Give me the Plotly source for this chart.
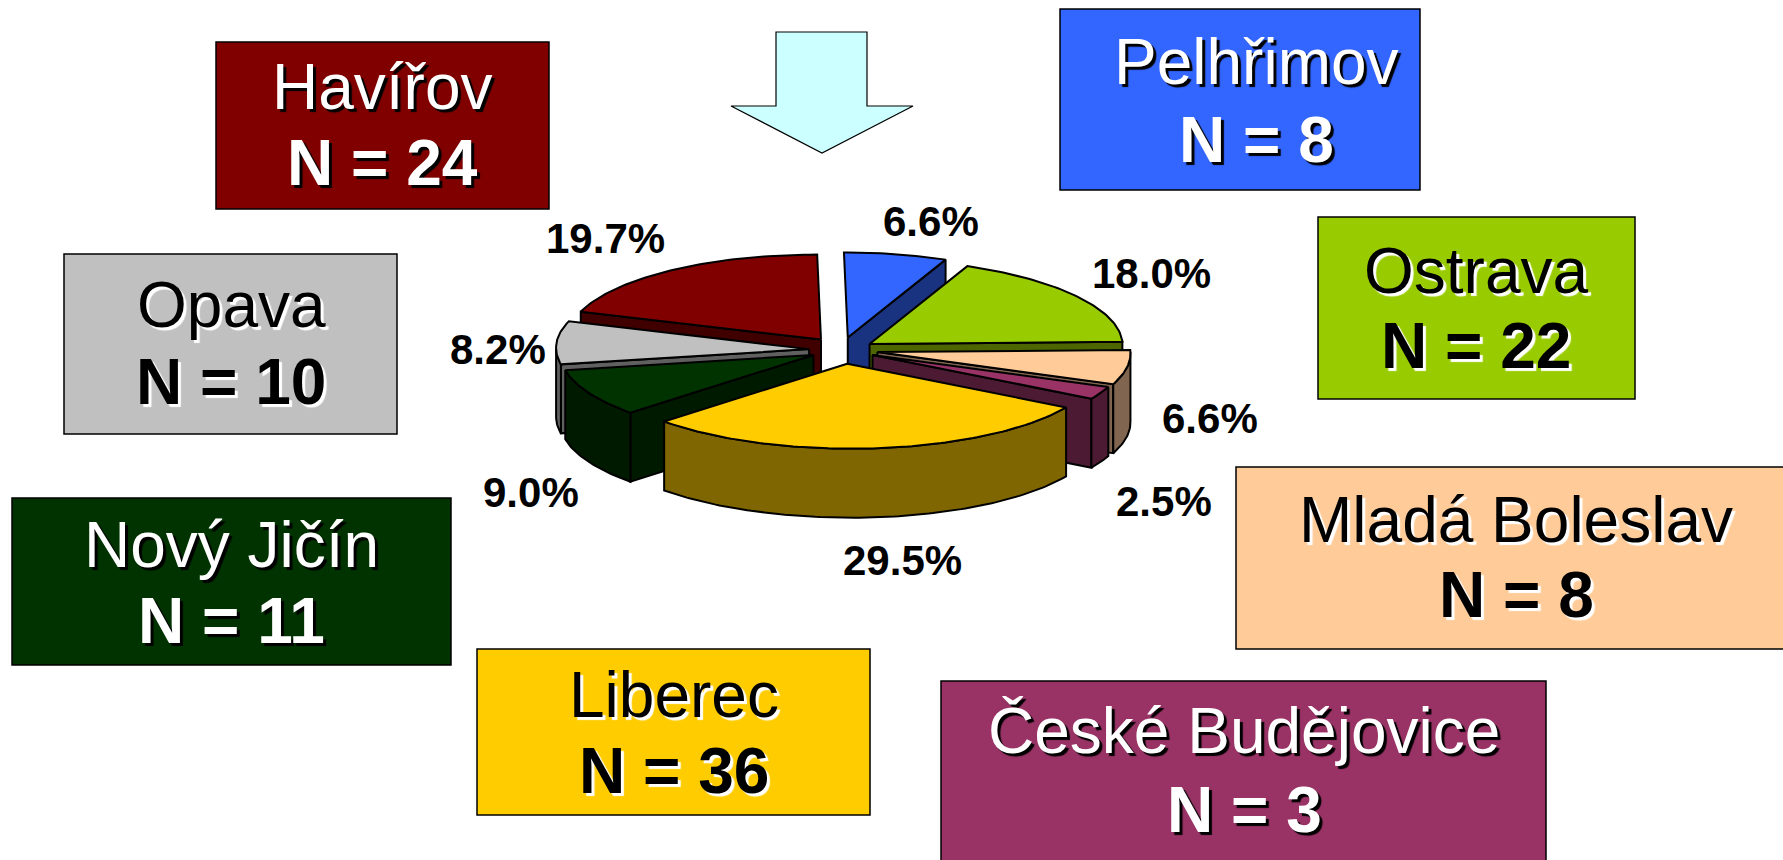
import math
import plotly.graph_objects as go

# Data
names = ["Pelhřimov", "Ostrava", "Mladá Boleslav", "České Budějovice",
         "Liberec", "Nový Jičín", "Opava", "Havířov"]
counts = [8, 22, 8, 3, 36, 11, 10, 24]
percent_labels = ["6.6%", "18.0%", "6.6%", "2.5%", "29.5%", "9.0%", "8.2%", "19.7%"]

# Styles
top_colors = ["#3366FF", "#99CC00", "#FFCC99", "#993366",
              "#FFCC00", "#003300", "#C0C0C0", "#800000"]
side_colors = ["#1A3380", "#4D6600", "#806650", "#4D1A33",
               "#806600", "#001A00", "#606060", "#400000"]
text_colors = ["white", "black", "black", "white", "black", "white", "black", "white"]
shadow_colors = ["black", "white", "white", "black", "white", "black", "white", "black"]

# Pie geometry (pixels)
CX, CY = 843, 350
RX, RY, DEPTH = 253, 85, 69
SKEW = 0.045
pulls = [38, 32, 35, 33, 41, 33, 34, 38]
nudge_x = [-3, 0, 0, 0, 0, 0, 0, 0]
draw_order = [7, 0, 1, 6, 2, 3, 5, 4]

# Layout positions
boxes = [(1060, 9, 1420, 190), (1318, 217, 1635, 399), (1236, 467, 1790, 649),
         (941, 681, 1546, 870), (477, 649, 870, 815), (12, 498, 451, 665),
         (64, 254, 397, 434), (216, 42, 549, 209)]
text_x = [1256, 1476, 1516, 1244, 674, 231, 231, 382]
name_y = [62, 271, 520, 731, 695, 545, 305, 87]
n_y = [140, 346, 595, 810, 771, 621, 382, 163]
pct_x = [931, 1151, 1210, 1164, 902, 531, 498, 605]
pct_y = [221, 273, 418, 501, 560, 492, 349, 238]

fig = go.Figure()


def add_poly(xs, ys, color):
    fig.add_trace(go.Scatter(
        x=xs, y=ys, mode="lines", fill="toself", fillcolor=color,
        line=dict(color="black", width=2), hoverinfo="skip", showlegend=False))


total = sum(counts)
bounds = [0.0]
for c in counts:
    bounds.append(bounds[-1] + 360.0 * c / total)


def rim(ax, ay, t):
    r = math.radians(t)
    dy = -RY * math.cos(r)
    return ax + RX * math.sin(r) + SKEW * dy, ay + dy


for i in draw_order:
    t0, t1 = bounds[i], bounds[i + 1]
    mid = math.radians((t0 + t1) / 2)
    ax = CX + pulls[i] * math.sin(mid) + nudge_x[i]
    ay = CY - pulls[i] * math.cos(mid) * RY / RX

    # Radial walls that face the viewer
    for edge, normal in ((t0, t0 - 90), (t1, t1 + 90)):
        if math.cos(math.radians(normal)) < -1e-6:
            ex, ey = rim(ax, ay, edge)
            add_poly([ax, ex, ex, ax, ax], [ay, ey, ey + DEPTH, ay + DEPTH, ay], side_colors[i])

    # Outer wall
    a, b = max(t0, 90), min(t1, 270)
    if b > a:
        n = max(2, int(b - a) + 1)
        ts = [a + (b - a) * k / (n - 1) for k in range(n)]
        pts = [rim(ax, ay, t) for t in ts]
        xs = [p[0] for p in pts] + [p[0] for p in reversed(pts)] + [pts[0][0]]
        ys = [p[1] for p in pts] + [p[1] + DEPTH for p in reversed(pts)] + [pts[0][1]]
        add_poly(xs, ys, side_colors[i])

    # Top face
    n = max(2, int(t1 - t0) + 1)
    pts = [rim(ax, ay, t0 + (t1 - t0) * k / (n - 1)) for k in range(n)]
    add_poly([ax] + [p[0] for p in pts] + [ax], [ay] + [p[1] for p in pts] + [ay], top_colors[i])

shapes = []
for i, (x0, y0, x1, y1) in enumerate(boxes):
    shapes.append(dict(type="rect", xref="x", yref="y", x0=x0, y0=y0, x1=x1, y1=y1,
                       fillcolor=top_colors[i], line=dict(color="black", width=1.5), layer="below"))
shapes.append(dict(type="path", xref="x", yref="y",
                   path="M776,32 L867,32 L867,106 L913,106 L822,153 L731,106 L776,106 Z",
                   fillcolor="#CCFFFF", line=dict(color="black", width=1.2), layer="below"))

annotations = []
for i in range(len(names)):
    shadow = f"3px 3px 1px {shadow_colors[i]}"
    annotations.append(dict(x=text_x[i], y=name_y[i], text=names[i], showarrow=False,
                            xref="x", yref="y", xanchor="center", yanchor="middle",
                            font=dict(family="Liberation Sans", size=64,
                                      color=text_colors[i], shadow=shadow)))
    annotations.append(dict(x=text_x[i], y=n_y[i], text=f"<b>N = {counts[i]}</b>", showarrow=False,
                            xref="x", yref="y", xanchor="center", yanchor="middle",
                            font=dict(family="Liberation Sans", size=64,
                                      color=text_colors[i], shadow=shadow)))
    annotations.append(dict(x=pct_x[i], y=pct_y[i], text=f"<b>{percent_labels[i]}</b>", showarrow=False,
                            xref="x", yref="y", xanchor="center", yanchor="middle",
                            font=dict(family="Liberation Sans", size=42, color="black")))

fig.update_layout(
    width=1783, height=860, margin=dict(l=0, r=0, t=0, b=0),
    paper_bgcolor="white", plot_bgcolor="white", showlegend=False,
    xaxis=dict(range=[0, 1783], visible=False, fixedrange=True),
    yaxis=dict(range=[860, 0], visible=False, fixedrange=True),
    shapes=shapes, annotations=annotations,
)

fig.write_html("out.html", config={"displayModeBar": False},
               post_script="document.body.style.margin='0';document.body.style.overflow='hidden';")
